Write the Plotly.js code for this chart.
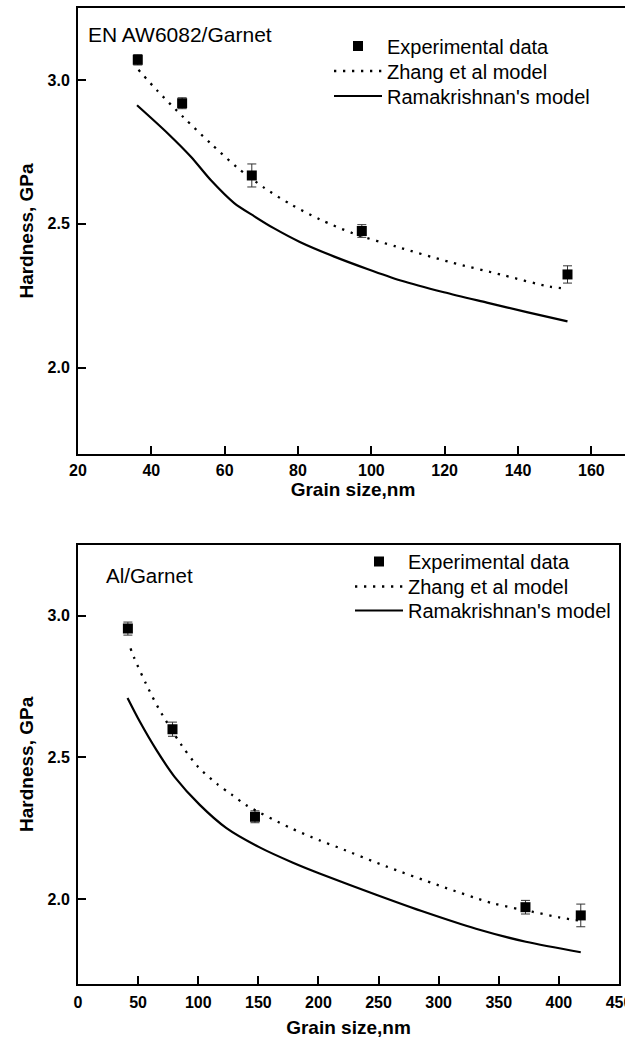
<!DOCTYPE html>
<html>
<head>
<meta charset="utf-8">
<script src="https://cdn.plot.ly/plotly-3.0.1.min.js"></script>
<style>
html,body{margin:0;padding:0;background:#fff;overflow:hidden;}
#wrap{width:625px;height:1038px;overflow:hidden;position:relative;}
#chart{width:650px;height:1038px;}
</style>
</head>
<body>
<div id="wrap"><div id="chart"></div></div>
<script>
// ---- Top panel: EN AW6082/Garnet ----
const topExpX = [36.3, 48.4, 67.4, 97.4, 153.5];
const topExpY = [3.07, 2.919, 2.668, 2.475, 2.324];
const topExpErr = [0.018, 0.019, 0.04, 0.022, 0.03];
const topZhangX = [36.5, 41.6, 48.7, 56.3, 63.5, 70.8, 78.1, 86.0, 95.2, 107.0, 121.5, 136.1, 148.5, 153.5];
const topZhangY = [3.035, 2.963, 2.871, 2.778, 2.695, 2.625, 2.567, 2.515, 2.466, 2.42, 2.367, 2.321, 2.282, 2.274];
const topRamaX = [36.1, 44.5, 50.8, 56.2, 62.6, 68.1, 73.5, 80.5, 89.9, 98.9, 108.0, 119.8, 131.5, 142.4, 153.5];
const topRamaY = [2.912, 2.814, 2.733, 2.652, 2.572, 2.526, 2.484, 2.437, 2.386, 2.343, 2.303, 2.262, 2.226, 2.193, 2.161];

// ---- Bottom panel: Al/Garnet ----
const botExpX = [41.5, 78.6, 147.2, 372.2, 418.2];
const botExpY = [2.954, 2.599, 2.290, 1.971, 1.942];
const botExpErr = [0.023, 0.025, 0.021, 0.024, 0.04];
const botZhangX = [43.7, 46.8, 56.7, 67.5, 86.1, 99.9, 115.9, 127.6, 140.0, 176.0, 200.9, 217.5, 256.3, 300.6, 344.8, 378.0, 400.2, 418.2];
const botZhangY = [2.884, 2.850, 2.758, 2.669, 2.543, 2.466, 2.405, 2.369, 2.331, 2.252, 2.207, 2.180, 2.115, 2.047, 1.985, 1.955, 1.935, 1.923];
const botRamaX = [41.2, 51.5, 65.3, 80.5, 101.3, 123.5, 151.1, 178.8, 200.9, 248.0, 289.5, 331.0, 372.5, 418.2];
const botRamaY = [2.709, 2.625, 2.525, 2.430, 2.332, 2.250, 2.182, 2.128, 2.090, 2.015, 1.952, 1.895, 1.849, 1.812];

// ---- Text ----
const seriesNames = ["Experimental data", "Zhang et al model", "Ramakrishnan's model"];
const panelLabels = ["EN AW6082/Garnet", "Al/Garnet"];
const xTitle = "Grain size,nm";
const yTitle = "Hardness, GPa";
const yTickVals = [2.0, 2.5, 3.0];
const yTickText = ["2.0", "2.5", "3.0"];
const topXTicks = [20, 40, 60, 80, 100, 120, 140, 160];
const botXTicks = [0, 50, 100, 150, 200, 250, 300, 350, 400, 450];

const FONT = "Liberation Sans, Arial, sans-serif";
const W = 650, H = 1038;
const LEGFS = 20;

function expTrace(x, y, err, xa, ya, lg) {
  return {x, y, type: 'scatter', mode: 'markers', name: seriesNames[0], xaxis: xa, yaxis: ya, legend: lg,
    marker: {symbol: 'square', size: 10, color: '#000'},
    error_y: {type: 'data', array: err, visible: true, color: '#333', thickness: 1, width: 4.5}};
}
function zhangTrace(x, y, xa, ya, lg) {
  return {x, y, type: 'scatter', mode: 'lines', name: seriesNames[1], xaxis: xa, yaxis: ya, legend: lg,
    line: {color: '#000', width: 2.3, dash: '2.3px,6.7px', shape: 'spline', smoothing: 0.8}};
}
function ramaTrace(x, y, xa, ya, lg) {
  return {x, y, type: 'scatter', mode: 'lines', name: seriesNames[2], xaxis: xa, yaxis: ya, legend: lg,
    line: {color: '#000', width: 2.2, shape: 'spline', smoothing: 0.8}};
}

const data = [
  expTrace(topExpX, topExpY, topExpErr, 'x', 'y', 'legend'),
  zhangTrace(topZhangX, topZhangY, 'x', 'y', 'legend2'),
  ramaTrace(topRamaX, topRamaY, 'x', 'y', 'legend3'),
  expTrace(botExpX, botExpY, botExpErr, 'x2', 'y2', 'legend4'),
  zhangTrace(botZhangX, botZhangY, 'x2', 'y2', 'legend5'),
  ramaTrace(botRamaX, botRamaY, 'x2', 'y2', 'legend6')
];

const axBase = {
  showline: true, linewidth: 2, linecolor: '#000', mirror: true,
  ticks: 'inside', ticklen: 8, tickwidth: 2, tickcolor: '#000',
  showgrid: false, zeroline: false,
  tickfont: {family: FONT, size: 16, color: '#000', weight: 'bold'},
  ticklabelstandoff: 4
};
const titleFont = {family: FONT, size: 19, color: '#000', weight: 'bold'};

function leg(xpx, rowCenterPx) {
  const off = 5 + (LEGFS * 1.3 + 3) / 2;
  return {bgcolor: 'rgba(0,0,0,0)', borderwidth: 0, font: {family: FONT, size: LEGFS, color: '#000'},
    xanchor: 'left', yanchor: 'top', itemwidth: 48, itemclick: false,
    x: xpx / W, y: 1 - (rowCenterPx - off) / H};
}

const layout = {
  width: W, height: H,
  margin: {l: 0, r: 0, t: 0, b: 0},
  paper_bgcolor: '#fff', plot_bgcolor: '#fff',
  showlegend: true,
  xaxis: Object.assign({}, axBase, {domain: [78 / W, 628 / W], range: [20, 170], tickvals: topXTicks, anchor: 'y',
    ticklabelstandoff: 1, title: {text: xTitle, font: titleFont, standoff: 0}}),
  yaxis: Object.assign({}, axBase, {domain: [1 - 454 / H, 1 - 8 / H], range: [1.7, 3.25], tickvals: yTickVals, ticktext: yTickText, anchor: 'x',
    ticklabelstandoff: 3, title: {text: yTitle, font: titleFont, standoff: 9}}),
  xaxis2: Object.assign({}, axBase, {domain: [78 / W, 619 / W], range: [0, 450], tickvals: botXTicks, anchor: 'y2',
    ticklabelstandoff: 3, title: {text: xTitle, font: titleFont, standoff: 15}}),
  yaxis2: Object.assign({}, axBase, {domain: [1 - 984 / H, 1 - 544.7 / H], range: [1.7, 3.25], tickvals: yTickVals, ticktext: yTickText, anchor: 'x2',
    ticklabelstandoff: 3, title: {text: yTitle, font: titleFont, standoff: 9}}),
  legend: leg(329, 46),
  legend2: leg(329, 71),
  legend3: leg(329, 96),
  legend4: leg(350, 561.5),
  legend5: leg(350, 586.5),
  legend6: leg(350, 610.5),
  annotations: [
    {text: panelLabels[0], xref: 'paper', yref: 'paper', x: 86 / W, y: 1 - 35 / H, xanchor: 'left', yanchor: 'middle',
      showarrow: false, font: {family: FONT, size: 21, color: '#000'}},
    {text: panelLabels[1], xref: 'paper', yref: 'paper', x: 104 / W, y: 1 - 576 / H, xanchor: 'left', yanchor: 'middle',
      showarrow: false, font: {family: FONT, size: 20.5, color: '#000'}}
  ]
};

Plotly.newPlot('chart', data, layout, {displayModeBar: false, staticPlot: true});
</script>
</body>
</html>
